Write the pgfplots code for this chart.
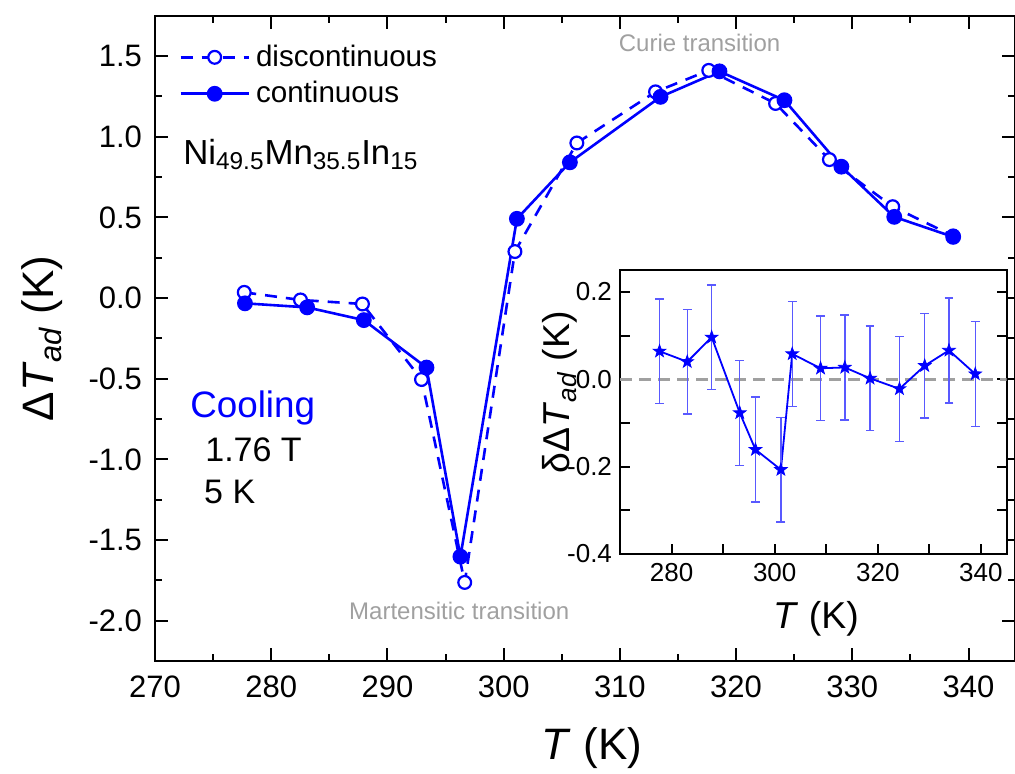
\documentclass[border=0pt]{standalone}
\usepackage{fontspec}
\setmainfont{Liberation Sans}
\usepackage{pgfplots}
\pgfplotsset{compat=1.18}

\definecolor{anngray}{RGB}{160,160,160}

% filled five-pointed star
\pgfdeclareplotmark{fstar}{%
  \pgfpathmoveto{\pgfpointpolar{90}{\pgfplotmarksize}}%
  \pgfpathlineto{\pgfpointpolar{126}{0.4\pgfplotmarksize}}%
  \pgfpathlineto{\pgfpointpolar{162}{\pgfplotmarksize}}%
  \pgfpathlineto{\pgfpointpolar{198}{0.4\pgfplotmarksize}}%
  \pgfpathlineto{\pgfpointpolar{234}{\pgfplotmarksize}}%
  \pgfpathlineto{\pgfpointpolar{270}{0.4\pgfplotmarksize}}%
  \pgfpathlineto{\pgfpointpolar{306}{\pgfplotmarksize}}%
  \pgfpathlineto{\pgfpointpolar{342}{0.4\pgfplotmarksize}}%
  \pgfpathlineto{\pgfpointpolar{18}{\pgfplotmarksize}}%
  \pgfpathlineto{\pgfpointpolar{54}{0.4\pgfplotmarksize}}%
  \pgfpathclose\pgfusepathqfillstroke}

\pgfplotsset{
  common/.style={
    scale only axis,
    tick align=inside,
    axis line style={line width=1pt},
    every tick/.style={black, line width=1pt},
    /pgf/number format/assume math mode=true,
    yticklabel style={/pgf/number format/.cd, fixed, fixed zerofill, precision=1},
  },
}

\begin{document}
\begin{tikzpicture}
\path[use as bounding box] (-77.5pt,-56.5pt) rectangle (430pt,330.5pt);

\begin{axis}[
  common,
  at={(0pt,0pt)}, anchor=south west,
  width=430pt, height=322.65pt,
  xmin=270, xmax=344, ymin=-2.25, ymax=1.75,
  xtick={270,280,...,340}, minor x tick num=1,
  ytick={-2,-1.5,-1,-0.5,0,0.5,1,1.5}, minor y tick num=1,
  major tick length=6.5pt, minor tick length=3.5pt,
  tick label style={font=\fontsize{15.5}{18}\selectfont},
  xticklabel shift=4pt, yticklabel shift=3pt,
  xlabel={\textit{T} (K)},
  ylabel={Δ\textit{T}\textsubscript{\textit{ad}} (K)},
  label style={font=\fontsize{22}{26}\selectfont},
  xlabel style={at={(axis description cs:0.508,-0.135)}, anchor=center},
  ylabel style={at={(axis description cs:-0.131,0.5)}, anchor=center},
  legend style={at={(axis description cs:0,1)}, anchor=north west,
    xshift=12pt, yshift=-12.5pt, draw=none, fill=none, inner sep=0pt,
    font=\fontsize{14.8}{17}\selectfont, row sep=2pt,
    /tikz/every odd column/.append style={column sep=1pt}},
  legend cell align=left,
  legend image code/.code={\draw[mark repeat=2,mark phase=2]
    plot coordinates {(0pt,0pt) (17pt,0pt) (34pt,0pt)};},
]
\addplot[blue, line width=1.3pt, dash pattern=on 6pt off 4.5pt,
  mark=*, mark size=3.2pt, mark options={solid, fill=white, line width=1.1pt}]
  coordinates {
  (277.68,0.035) (282.52,-0.012) (287.85,-0.037) (292.93,-0.505)
  (296.65,-1.763) (300.97,0.288) (306.30,0.961) (313.07,1.278)
  (317.65,1.411) (323.40,1.206) (328.03,0.858) (333.48,0.566)
  (338.68,0.385)
};
\addlegendentry{discontinuous}
\addplot[blue, line width=1.3pt, mark=*, mark size=3.3pt,
  mark options={solid, fill=blue}]
  coordinates {
  (277.74,-0.033) (283.09,-0.058) (287.97,-0.137) (293.36,-0.431)
  (296.28,-1.603) (301.14,0.491) (305.70,0.841) (313.50,1.247)
  (318.57,1.405) (324.16,1.226) (329.06,0.814) (333.61,0.503)
  (338.68,0.379)
};
\addlegendentry{continuous}

\node[anchor=base west, inner sep=0pt, font=\fontsize{17.4}{20}\selectfont]
  at (axis cs:272.4,0.83)
  {Ni\textsubscript{49.5}Mn\textsubscript{35.5}In\textsubscript{15}};
\node[anchor=base west, inner sep=0pt, text=blue, font=\fontsize{18.4}{22}\selectfont]
  at (axis cs:273.0,-0.738) {Cooling};
\node[anchor=base west, inner sep=0pt, font=\fontsize{17}{20}\selectfont]
  at (axis cs:274.3,-1.011) {1.76 T};
\node[anchor=base west, inner sep=0pt, font=\fontsize{17}{20}\selectfont]
  at (axis cs:274.2,-1.274) {5 K};
\node[anchor=base, text=anngray, font=\fontsize{12}{14}\selectfont]
  at (axis cs:316.86,1.531) {Curie transition};
\node[anchor=base, text=anngray, font=\fontsize{12}{14}\selectfont]
  at (axis cs:296.18,-1.995) {Martensitic transition};
\end{axis}

\begin{axis}[
  common,
  at={(232.5pt,53.5pt)}, anchor=south west,
  width=193.35pt, height=142pt,
  axis background/.style={fill=white},
  xmin=270, xmax=345, ymin=-0.4, ymax=0.25,
  xtick={280,290,...,340}, xticklabels={280,,300,,320,,340},
  ytick={-0.4,-0.3,-0.2,-0.1,0,0.1,0.2},
  yticklabels={-0.4,,-0.2,,0.0,,0.2},
  xtick pos=lower, ytick pos=both,
  major tick length=5pt,
  tick label style={font=\fontsize{13}{15}\selectfont},
  xticklabel shift=1pt, yticklabel shift=0.5pt,
  xlabel={\textit{T} (K)},
  ylabel={δΔ\textit{T}\textsubscript{\textit{ad}} (K)},
  label style={font=\fontsize{18.7}{22}\selectfont},
  xlabel style={at={(axis description cs:0.507,-0.229)}, anchor=center},
  ylabel style={at={(axis description cs:-0.155,0.57)}, anchor=center},
]
\addplot[anngray, line width=1.5pt, dash pattern=on 6pt off 3.5pt]
  coordinates {(270,0) (345,0)};
\addplot[blue, line width=0.9pt, mark=fstar, mark size=3.3pt,
  mark options={fill=blue, line width=0.4pt},
  error bars/.cd, y dir=both, y explicit,
  error bar style={blue!65, line width=0.7pt},
  error mark options={rotate=90, blue!65, mark size=2.2pt, line width=0.7pt}]
  coordinates {
  (277.67,0.064) +- (0,0.12)
  (283.04,0.040) +- (0,0.12)
  (287.78,0.096) +- (0,0.12)
  (293.23,-0.077) +- (0,0.12)
  (296.27,-0.161) +- (0,0.12)
  (301.20,-0.207) +- (0,0.12)
  (303.40,0.058) +- (0,0.12)
  (308.90,0.025) +- (0,0.12)
  (313.60,0.027) +- (0,0.12)
  (318.50,0.002) +- (0,0.12)
  (324.20,-0.022) +- (0,0.12)
  (329.10,0.031) +- (0,0.12)
  (333.80,0.066) +- (0,0.12)
  (338.90,0.012) +- (0,0.12)
};
\end{axis}
\end{tikzpicture}
\end{document}
